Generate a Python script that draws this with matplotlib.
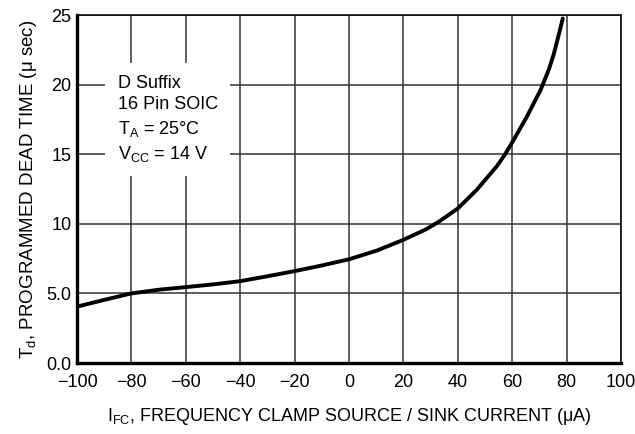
import matplotlib
matplotlib.use("Agg")
import matplotlib.pyplot as plt

current_ua = [-100, -90.3, -80, -69.7, -60, -49.8, -40, -30.3, -20, -10.6, 0, 10.3, 20,
              28.5, 33.4, 40, 47, 54.4, 57.4, 60, 65.4, 70.4, 73.5, 75.3, 77, 78.6]
dead_time_us = [4.05, 4.52, 5.0, 5.27, 5.45, 5.65, 5.88, 6.22, 6.6, 6.98, 7.45, 8.08, 8.85,
                9.62, 10.2, 11.1, 12.45, 14.15, 15.0, 15.85, 17.7, 19.6, 21.1, 22.2, 23.5, 24.75]

x_ticks = [-100, -80, -60, -40, -20, 0, 20, 40, 60, 80, 100]
y_ticks = [0, 5, 10, 15, 20, 25]
y_tick_labels = ["0.0", "5.0", "10", "15", "20", "25"]

family = "Liberation Sans"
plt.rcParams["font.family"] = [family, "DejaVu Sans"]
plt.rcParams["mathtext.fontset"] = "custom"
plt.rcParams["mathtext.rm"] = family
plt.rcParams["mathtext.it"] = family
plt.rcParams["mathtext.default"] = "rm"

fig = plt.figure(figsize=(6.35, 4.34), dpi=100)
ax = fig.add_axes([77 / 635, 1 - 363 / 434, 544 / 635, 348 / 434])

ax.plot(current_ua, dead_time_us, color="black", lw=2.8, solid_capstyle="round",
        solid_joinstyle="round", zorder=3)

ax.set_xlim(-100, 100)
ax.set_ylim(0, 25)
ax.set_xticks(x_ticks)
ax.set_xticklabels(["\u2212%d" % -v if v < 0 else str(v) for v in x_ticks])
ax.set_yticks(y_ticks)
ax.set_yticklabels(y_tick_labels)
ax.tick_params(length=0, labelsize=13, colors="black")
ax.tick_params(axis="x", pad=8)
ax.tick_params(axis="y", pad=4)
ax.grid(True, color="#333333", lw=1.1)
ax.set_axisbelow(True)

for side in ["left", "bottom"]:
    ax.spines[side].set_linewidth(2.4)
for side in ["top", "right"]:
    ax.spines[side].set_linewidth(1.1)

ax.set_xlabel("I$_{FC}$, FREQUENCY CLAMP SOURCE / SINK CURRENT (\u03bcA)", fontsize=13, labelpad=11)
ax.set_ylabel("T$_{d}$, PROGRAMMED DEAD TIME (\u03bc sec)", fontsize=13.5, labelpad=5)

ax.text(-85, 20.7, "D Suffix\n16 Pin SOIC\nT$_{A}$ = 25\u00b0C\nV$_{CC}$ = 14 V",
        fontsize=13, va="top", ha="left", linespacing=1.35, zorder=4,
        bbox=dict(facecolor="white", edgecolor="none", pad=9))

fig.savefig("out.png", dpi=100)
